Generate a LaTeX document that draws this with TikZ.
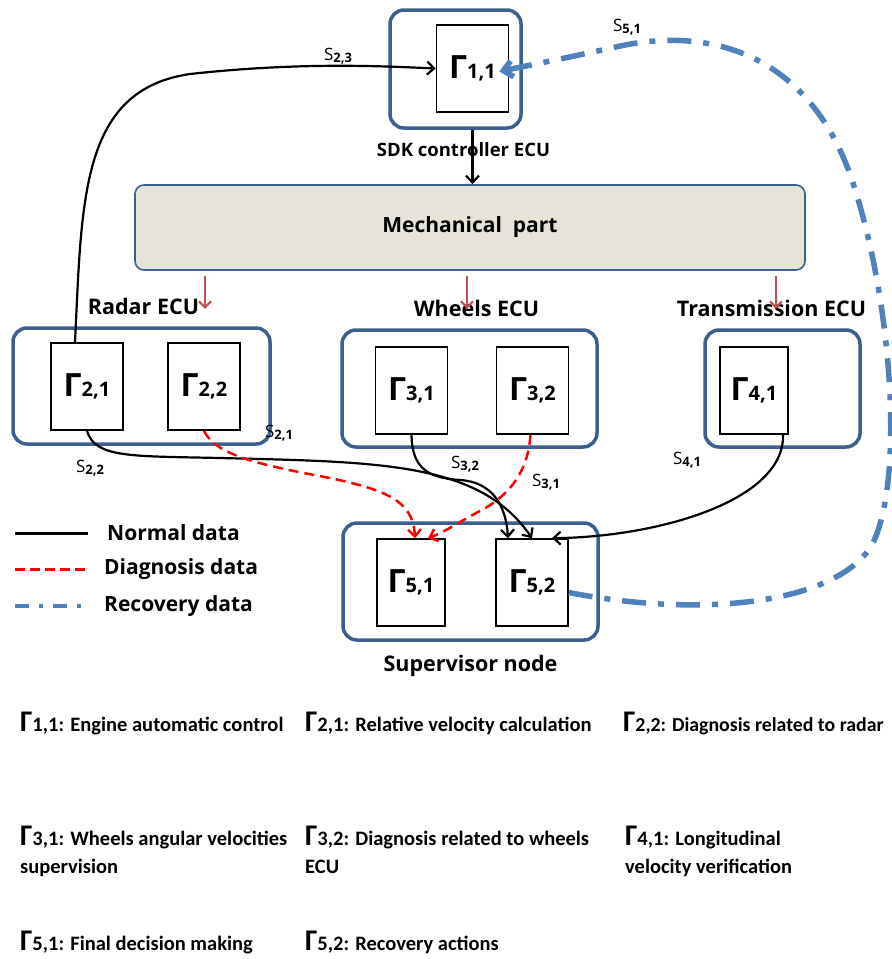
\documentclass[tikz,border=0pt]{standalone}
\usepackage{fontspec}
\setmainfont{Carlito}
\newfontfamily\diagfont{Open Sans}
\usetikzlibrary{arrows.meta,positioning}
\definecolor{ecublue}{HTML}{3B5F8E}
\definecolor{recblue}{HTML}{4F81BD}
\definecolor{mechfill}{HTML}{E6E4D8}
\definecolor{mechred}{HTML}{C0504D}
\newcommand\gamlbl[1]{{\fontsize{32}{32}\selectfont Γ}#1}
\newcommand\gamdesc[1]{{\fontsize{30}{30}\selectfont Γ}#1}
\newcommand\sig[1]{S\raisebox{-1.5pt}{\bfseries\fontsize{13}{13}\selectfont #1}}
\tikzset{
  ecubox/.style  = {rectangle, rounded corners=14pt, draw=ecublue, line width=3.5pt, inner sep=0pt},
  fnbox/.style   = {rectangle, draw=black, line width=1.6pt, fill=white, minimum width=72pt,
                    minimum height=87pt, inner sep=0pt, font=\diagfont\bfseries\fontsize{20}{20}\selectfont},
  mechbox/.style = {rectangle, rounded corners=9pt, draw=ecublue, fill=mechfill, line width=1.6pt,
                    minimum width=670pt, minimum height=85pt, font=\diagfont\bfseries\fontsize{21}{24}\selectfont},
  ecutxt/.style  = {font=\diagfont\bfseries\fontsize{21.5}{24}\selectfont, inner sep=0pt},
  sigtxt/.style  = {font=\diagfont\fontsize{17}{17}\selectfont, inner sep=0pt},
  lgdtxt/.style  = {font=\diagfont\bfseries\fontsize{21}{24}\selectfont, anchor=west, inner sep=0pt},
  desc/.style    = {font=\bfseries\fontsize{20.5}{28}\selectfont, anchor=base west, align=left, inner sep=0pt},
  normal/.style  = {draw=black, line width=2.2pt, -{Straight Barb[length=7pt,width=13pt]}},
  diag/.style    = {draw=red, line width=2.5pt, dash pattern=on 10pt off 6pt, -{Straight Barb[length=7pt,width=13pt]}},
  recov/.style   = {draw=recblue, line width=5.5pt, dash pattern=on 24pt off 12pt on 6pt off 12pt,
                    -{Straight Barb[length=9pt,width=16pt]}},
  mecharr/.style = {draw=mechred, line width=2pt, -{Straight Barb[length=6pt,width=12pt]}}
}
\begin{document}
\begin{tikzpicture}[x=1pt, y=-1pt]
  \useasboundingbox (0,0) rectangle (892,959);
  % ECUs and functions
  \node[ecubox, minimum width=131pt, minimum height=118pt] (sdk) at (455.5,69) {};
  \node[fnbox] (g11) at (472.5,68.5) {\gamlbl{1,1}};
  \node[ecutxt, font=\diagfont\bfseries\fontsize{18.5}{22}\selectfont, below=12pt of sdk, xshift=8pt] (sdklbl) {SDK controller ECU};
  \node[mechbox] (mech) at (470,227.5) {Mechanical\ \ part};
  \node[ecubox, minimum width=257pt, minimum height=116pt] (radar) at (141.5,386) {};
  \node[fnbox] (g21) at (87,386.5) {\gamlbl{2,1}};
  \node[fnbox] (g22) at (204,386.5) {\gamlbl{2,2}};
  \node[ecubox, minimum width=255pt, minimum height=117pt] (wheels) at (469.5,388.5) {};
  \node[fnbox] (g31) at (411.5,390.5) {\gamlbl{3,1}};
  \node[fnbox] (g32) at (532.5,390.5) {\gamlbl{3,2}};
  \node[ecubox, minimum width=155pt, minimum height=117pt] (trans) at (782.5,388.5) {};
  \node[fnbox, minimum width=68pt] (g41) at (754,390.5) {\gamlbl{4,1}};
  \node[ecubox, minimum width=255pt, minimum height=117pt] (sup) at (470.5,581.5) {};
  \node[fnbox, minimum width=68pt] (g51) at (411,582.5) {\gamlbl{5,1}};
  \node[fnbox] (g52) at (532,582.5) {\gamlbl{5,2}};
  \node[ecutxt, above=11pt of radar, xshift=2pt] (radarlbl) {Radar ECU};
  \node[ecutxt, above=11pt of wheels, xshift=7pt] (wheelslbl) {Wheels ECU};
  \node[ecutxt, above=11pt of trans, xshift=-11pt] (translbl) {Transmission ECU};
  \node[ecutxt, below=13pt of sup] (suplbl) {Supervisor node};

  % mechanical part links
  \draw[normal] (g11.south |- sdk.south) -- (g11.south |- mech.north);
  \foreach \dx in {-265,-3,306}
    \draw[mecharr] ([xshift=\dx, yshift=-5]mech.south) -- ++(0,33);

  % signals
  \draw[normal] (g21.north) ++(-12,0) .. controls (82,200) and (80,90) .. (190,74)
    .. controls (300,62) and (380,66) .. (g11.west);
  \draw[normal] (g21.south) .. controls (95,458) and (130,456) .. (220,458)
    .. controls (380,462) and (480,462) .. (g52.north);
  \draw[normal] (g31.south) .. controls (412,470) and (430,478) .. (460,480)
    .. controls (492,482) and (506,505) .. ([xshift=-24]g52.north);
  \draw[normal] ([xshift=29]g41.south) .. controls (785,500) and (660,537) .. ([xshift=20]g52.north);
  \draw[diag] (g22.south) .. controls (215,455) and (260,465) .. (330,478)
    .. controls (385,490) and (413,500) .. ([xshift=4]g51.north);
  \draw[diag] ([xshift=-2]g32.south) .. controls (528,470) and (512,493) .. (482,510)
    .. controls (462,520) and (445,532) .. ([xshift=17]g51.north);
  \draw[recov] ([yshift=-10]g52.east) .. controls (700,618) and (835,605) .. (872,545)
    .. controls (905,480) and (892,300) .. (852,180)
    .. controls (815,70) and (730,25) .. (625,45)
    .. controls (570,57) .. ([xshift=-10, yshift=-3]g11.east);

  % signal names
  \node[sigtxt] (s23) at (338,56) {\sig{2,3}};
  \node[sigtxt] (s51) at (627,27) {\sig{5,1}};
  \node[sigtxt] (s22) at (90,468) {\sig{2,2}};
  \node[sigtxt] (s21) at (279,433) {\sig{2,1}};
  \node[sigtxt] (s32) at (465,464) {\sig{3,2}};
  \node[sigtxt] (s31) at (546,482) {\sig{3,1}};
  \node[sigtxt] (s41) at (687,460) {\sig{4,1}};

  % legend
  \node[lgdtxt] (lnorm) at (107,533) {Normal data};
  \node[lgdtxt] (ldiag) at (104,569) {Diagnosis data};
  \node[lgdtxt] (lrec) at (104,606) {Recovery data};
  \draw[black, line width=3pt] ([xshift=-92]lnorm.west) -- ([xshift=-19]lnorm.west);
  \draw[red, line width=3pt, dash pattern=on 10pt off 5pt] ([xshift=-89]ldiag.west) -- ([xshift=-16]ldiag.west);
  \draw[recblue, line width=4pt, dash pattern=on 14pt off 10pt on 4pt off 10pt] ([xshift=-89]lrec.west) -- ([xshift=-20]lrec.west);

  % descriptions
  \node[desc] (d11) at (20,731) {\gamdesc{1,1}: Engine automatic control};
  \node[desc] (d21) at (305,731) {\gamdesc{2,1}: Relative velocity calculation};
  \node[desc, font=\bfseries\fontsize{19.8}{28}\selectfont] (d22) at (623,731) {\gamdesc{2,2}: Diagnosis related to radar};
  \node[desc] (d31) at (20,873) {\gamdesc{3,1}: Wheels angular velocities\\supervision};
  \node[desc] (d32) at (305,873) {\gamdesc{3,2}: Diagnosis related to wheels\\ECU};
  \node[desc] (d41) at (625,873) {\gamdesc{4,1}: Longitudinal\\velocity verification};
  \node[desc] (d51) at (20,950) {\gamdesc{5,1}: Final decision making};
  \node[desc] (d52) at (305,950) {\gamdesc{5,2}: Recovery actions};
\end{tikzpicture}
\end{document}
